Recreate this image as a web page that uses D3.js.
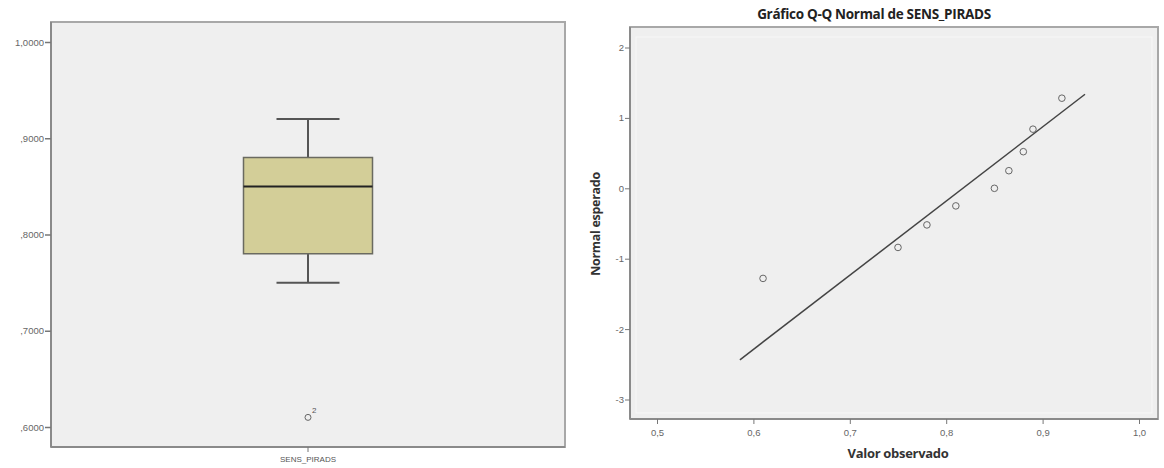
<!DOCTYPE html>
<html><head><meta charset="utf-8">
<script src="https://cdn.jsdelivr.net/npm/d3@7"></script>
<style>body{margin:0;background:#fff}svg{display:block}</style>
</head><body>
<svg id="c" width="1164" height="468"></svg>
<script>
// ---- data ----
const boxCategory = ["SENS_PIRADS"];
const boxStats = [0.75, 0.78, 0.85, 0.88, 0.92]; // whisker low, Q1, median, Q3, whisker high
const boxOutliers = [0.61];
const boxOutlierLabels = ["2"];
const boxYTicks = [0.6, 0.7, 0.8, 0.9, 1.0];
const boxYTickLabels = [",6000", ",7000", ",8000", ",9000", "1,0000"];

const qqObserved = [0.61, 0.75, 0.78, 0.81, 0.85, 0.865, 0.88, 0.89, 0.92];
const qqExpected = [-1.28, -0.84, -0.52, -0.25, 0.0, 0.25, 0.52, 0.84, 1.28];
const qqLineX = [0.586, 0.944];
const qqXTicks = [0.5, 0.6, 0.7, 0.8, 0.9, 1.0];
const qqXTickLabels = ["0,5", "0,6", "0,7", "0,8", "0,9", "1,0"];
const qqYTicks = [-3, -2, -1, 0, 1, 2];
const qqYTickLabels = ["-3", "-2", "-1", "0", "1", "2"];

const svg = d3.select("#c");
const font = "'Liberation Sans', Arial, sans-serif";
const tfont = "'Open Sans', 'Liberation Sans', sans-serif";
const bg = "#efefef";

// ---- left: boxplot ----
{
  const L = 51, T = 22, R = 565, B = 447;
  const y = d3.scaleLinear().domain([0.6, 1.0]).range([427, 42]);
  const x = d3.scaleBand().domain(boxCategory).range([L, R]);
  const g = svg.append("g");
  g.append("rect").attr("x", L).attr("y", T).attr("width", R - L).attr("height", B - T)
    .attr("fill", bg).attr("stroke", "#a8a8a8").attr("stroke-width", 2);
  const ya = d3.axisLeft(y).tickValues(boxYTicks).tickFormat((d, i) => boxYTickLabels[i]).tickSize(6).tickSizeOuter(0);
  const yg = g.append("g").attr("transform", `translate(${L},0)`).call(ya);
  yg.select(".domain").attr("d", `M0,${T}V${B}`).attr("stroke", "#8a8a8a").attr("stroke-width", 2);
  yg.selectAll(".tick line").attr("stroke", "#777").attr("stroke-width", 1.5);
  yg.selectAll("text").attr("font-family", font).attr("font-size", 9.5).attr("fill", "#666").attr("x", -7);
  const xa = d3.axisBottom(x).tickSize(5).tickSizeOuter(0);
  const xg = g.append("g").attr("transform", `translate(0,${B})`).call(xa);
  xg.select(".domain").attr("d", `M${L},0H${R}`).attr("stroke", "#8a8a8a").attr("stroke-width", 2);
  xg.selectAll(".tick line").attr("stroke", "#777");
  xg.selectAll("text").attr("font-family", font).attr("font-size", 8).attr("fill", "#555").attr("dy", "0.9em");

  const cx = x(boxCategory[0]) + x.bandwidth() / 2;
  const bw = 129, cw = 63;
  const [lo, q1, med, q3, hi] = boxStats;
  g.append("line").attr("x1", cx).attr("x2", cx).attr("y1", y(hi)).attr("y2", y(q3)).attr("stroke", "#555").attr("stroke-width", 2);
  g.append("line").attr("x1", cx).attr("x2", cx).attr("y1", y(q1)).attr("y2", y(lo)).attr("stroke", "#555").attr("stroke-width", 2);
  [lo, hi].forEach(v => g.append("line").attr("x1", cx - cw / 2).attr("x2", cx + cw / 2).attr("y1", y(v)).attr("y2", y(v)).attr("stroke", "#555").attr("stroke-width", 2));
  g.append("rect").attr("x", cx - bw / 2).attr("y", y(q3)).attr("width", bw).attr("height", y(q1) - y(q3))
    .attr("fill", "#d3ce98").attr("stroke", "#6a6a60").attr("stroke-width", 1.5);
  g.append("line").attr("x1", cx - bw / 2).attr("x2", cx + bw / 2).attr("y1", y(med)).attr("y2", y(med)).attr("stroke", "#222").attr("stroke-width", 2);
  boxOutliers.forEach((v, i) => {
    g.append("circle").attr("cx", cx).attr("cy", y(v)).attr("r", 3).attr("fill", "none").attr("stroke", "#666").attr("stroke-width", 1);
    g.append("text").attr("x", cx + 4).attr("y", y(v) - 4).text(boxOutlierLabels[i])
      .attr("font-family", font).attr("font-size", 8).attr("fill", "#555");
  });
}

// ---- right: Q-Q plot ----
{
  const L = 630, T = 27, R = 1158, B = 419;
  const x = d3.scaleLinear().domain([0.5, 1.0]).range([657, 1139]);
  const y = d3.scaleLinear().domain([-3, 2]).range([399.5, 47.5]);
  const g = svg.append("g");
  g.append("rect").attr("x", L).attr("y", T).attr("width", R - L).attr("height", B - T)
    .attr("fill", bg).attr("stroke", "#a8a8a8").attr("stroke-width", 2);
  g.append("rect").attr("x", L + 6).attr("y", T + 10).attr("width", R - L - 12).attr("height", B - T - 16)
    .attr("fill", "none").attr("stroke", "#f8f8f8").attr("stroke-width", 1);
  g.append("text").attr("x", 874).attr("y", 19).attr("text-anchor", "middle")
    .attr("font-family", tfont).attr("font-size", 13.5).attr("font-weight", "bold").attr("fill", "#222")
    .attr("letter-spacing", -0.3)
    .text("Gráfico Q-Q Normal de SENS_PIRADS");

  const ya = d3.axisLeft(y).tickValues(qqYTicks).tickFormat((d, i) => qqYTickLabels[i]).tickSize(5).tickSizeOuter(0);
  const yg = g.append("g").attr("transform", `translate(${L},0)`).call(ya);
  yg.select(".domain").attr("d", `M0,${T}V${B}`).attr("stroke", "#8a8a8a").attr("stroke-width", 2);
  yg.selectAll(".tick line").attr("stroke", "#777");
  yg.selectAll("text").attr("font-family", font).attr("font-size", 9.5).attr("fill", "#666").attr("x", -6);
  const xa = d3.axisBottom(x).tickValues(qqXTicks).tickFormat((d, i) => qqXTickLabels[i]).tickSize(5).tickSizeOuter(0);
  const xg = g.append("g").attr("transform", `translate(0,${B})`).call(xa);
  xg.select(".domain").attr("d", `M${L},0H${R}`).attr("stroke", "#8a8a8a").attr("stroke-width", 2);
  xg.selectAll(".tick line").attr("stroke", "#777");
  xg.selectAll("text").attr("font-family", font).attr("font-size", 9.5).attr("fill", "#666").attr("dy", "0.95em");

  g.append("text").attr("x", 898).attr("y", 458).attr("text-anchor", "middle")
    .attr("font-family", tfont).attr("font-size", 13).attr("font-weight", "bold").attr("fill", "#333")
    .attr("letter-spacing", -0.3).text("Valor observado");
  g.append("text").attr("transform", "translate(600,224) rotate(-90)").attr("text-anchor", "middle")
    .attr("font-family", tfont).attr("font-size", 12.5).attr("font-weight", "bold").attr("fill", "#333")
    .attr("letter-spacing", -0.3).text("Normal esperado");

  const mean = d3.mean(qqObserved), sd = d3.deviation(qqObserved);
  const lineData = qqLineX.map(v => [v, (v - mean) / sd]);
  g.append("path").attr("d", d3.line().x(d => x(d[0])).y(d => y(d[1]))(lineData))
    .attr("stroke", "#444").attr("stroke-width", 1.5).attr("fill", "none");
  g.selectAll("circle.pt").data(qqObserved).join("circle").attr("class", "pt")
    .attr("cx", d => x(d)).attr("cy", (d, i) => y(qqExpected[i])).attr("r", 3.3)
    .attr("fill", "none").attr("stroke", "#666").attr("stroke-width", 1);
}
</script>
</body></html>
